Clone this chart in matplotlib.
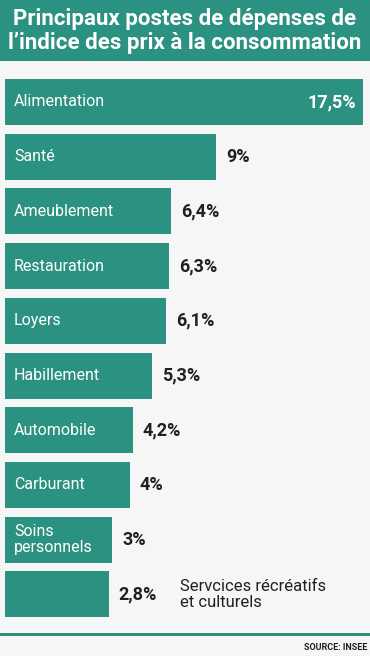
import matplotlib.pyplot as plt
from matplotlib.patches import Rectangle

# Data
categories = ['Alimentation', 'Santé', 'Ameublement', 'Restauration', 'Loyers',
              'Habillement', 'Automobile', 'Carburant', 'Soins\npersonnels', '']
values = [17.5, 9, 6.4, 6.3, 6.1, 5.3, 4.2, 4, 3, 2.8]
outside_note = 'Servcices récréatifs\net culturels'

title = 'Principaux postes de dépenses de\nl\u2019indice des prix à la consommation'
source = 'SOURCE: INSEE'

teal = '#2b9180'
bg = '#f6f6f6'
dark = '#231f20'

plt.rcParams['font.family'] = ['Roboto', 'DejaVu Sans']

W, H = 370, 656
fig = plt.figure(figsize=(W / 100, H / 100), dpi=100)
fig.patch.set_facecolor(bg)

# Title band
fig.add_artist(Rectangle((0, 1 - 61 / H), 1, 61 / H, transform=fig.transFigure,
                         facecolor=teal, edgecolor='none'))
fig.text(0.5, 1 - 31 / H, title, ha='center', va='center', color='white',
         fontsize=16, fontweight='bold', linespacing=1.15)

# Bottom rule and source
fig.add_artist(Rectangle((0, 1 - 636 / H), 1, 3 / H, transform=fig.transFigure,
                         facecolor=teal, edgecolor='none'))
fig.text(367 / W, 1 - 648 / H, source, ha='right', va='center', color=dark,
         fontsize=6.5, fontweight='bold')

# Bars axes spanning the figure; x in percent, y in bar index
ax = fig.add_axes([0, 0, 1, 1])
ax.set_facecolor('none')
px_per_unit = 17.28
zero_px = 60.6
ax.set_xlim(-zero_px / px_per_unit, (W - zero_px) / px_per_unit)
pitch = 54.7
first_center = 102
ax.set_ylim((H - first_center) / pitch, -first_center / pitch)
ax.axis('off')

left = -(zero_px - 5) / px_per_unit
ypos = list(range(len(values)))
ax.barh(ypos, [v - left for v in values], left=left, height=46 / pitch,
        color=teal, edgecolor='none')

label_x = left + 9 / px_per_unit
for i, (cat, v) in enumerate(zip(categories, values)):
    txt = f'{v:g}'.replace('.', ',') + '%'
    if cat:
        ax.text(label_x, i, cat, ha='left', va='center', color='white',
                fontsize=11.5, linespacing=1.05)
    if i == 0:
        ax.annotate(txt, (v, i), xytext=(-5, 0), textcoords='offset points',
                    ha='right', va='center', color='white', fontsize=13,
                    fontweight='bold')
    else:
        ax.annotate(txt, (v, i), xytext=(7, 0), textcoords='offset points',
                    ha='left', va='center', color=dark, fontsize=13,
                    fontweight='bold')

ax.text((180 - zero_px) / px_per_unit, len(values) - 1, outside_note,
        ha='left', va='center', color=dark, fontsize=12, linespacing=1.05)

fig.savefig('out.png', dpi=100, facecolor=bg)
